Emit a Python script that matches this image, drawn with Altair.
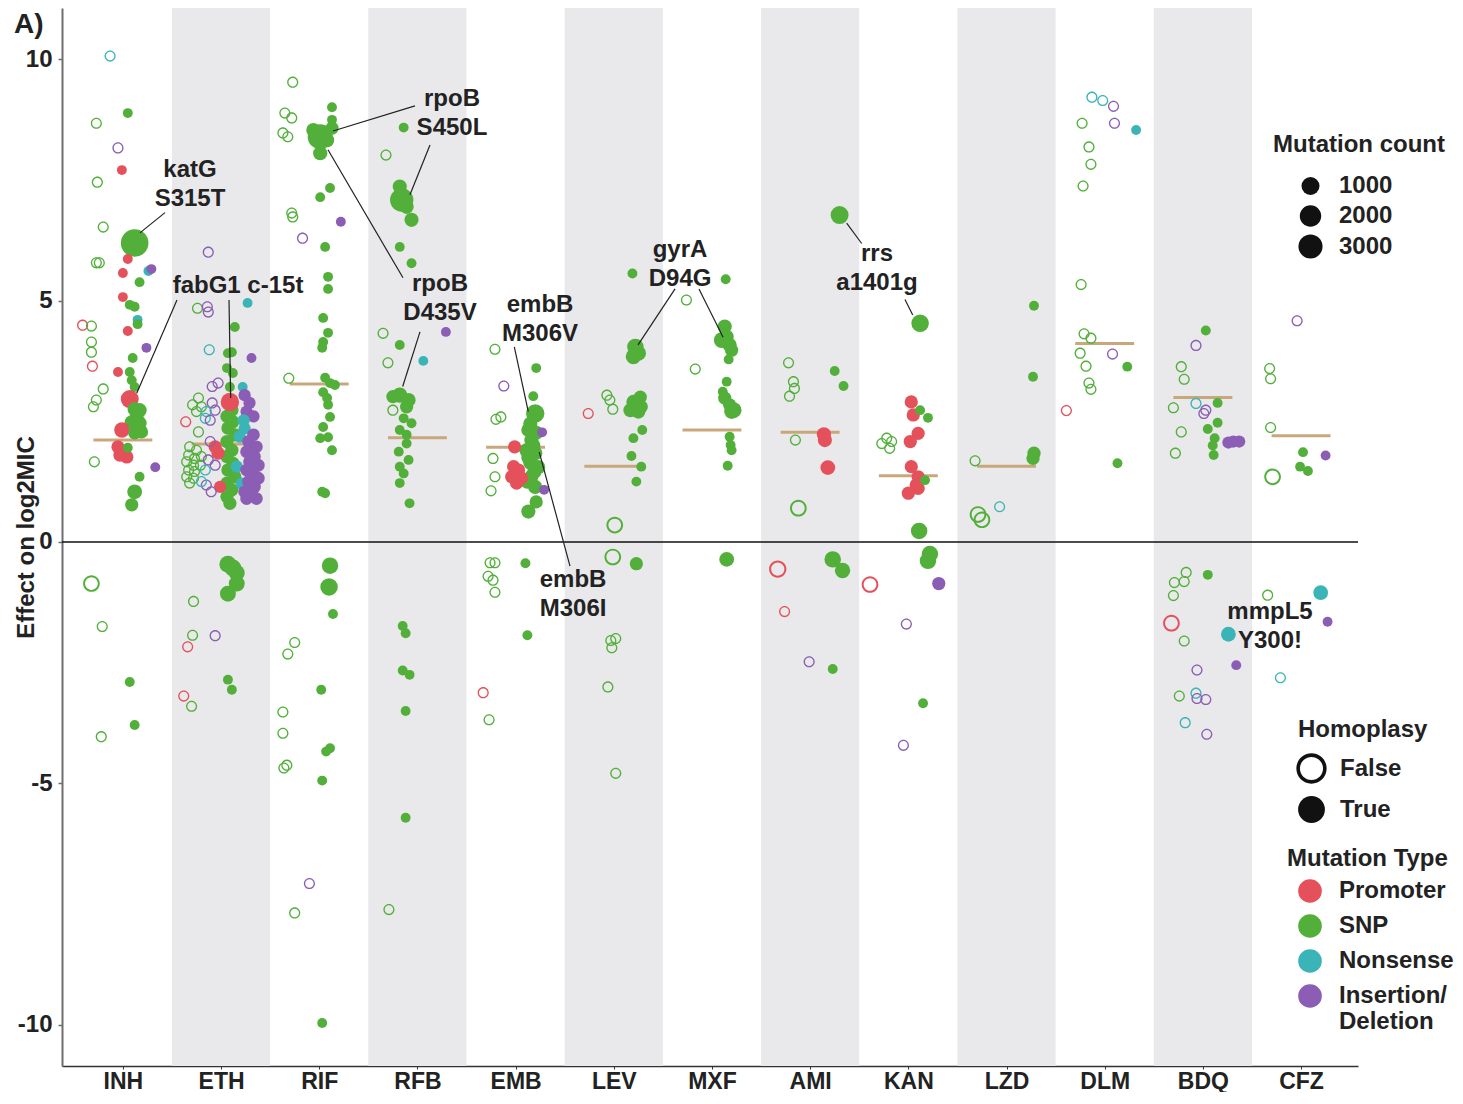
import altair as alt
import pandas as pd

# ---------------- data ----------------
DRUGS = ["INH", "ETH", "RIF", "RFB", "EMB", "LEV", "MXF", "AMI", "KAN", "LZD", "DLM", "BDQ", "CFZ"]
MEDIANS = [2.11, 2.03, 3.27, 2.16, 1.96, 1.57, 2.32, 2.27, 1.37, 1.57, 4.11, 2.99, 2.20]
SHADED = ["ETH", "RFB", "LEV", "AMI", "LZD", "BDQ"]
TYPE_CODES = {"P": "Promoter", "S": "SNP", "N": "Nonsense", "I": "Insertion/Deletion"}
TYPE_ORDER = ["Promoter", "SNP", "Nonsense", "Insertion/Deletion"]
TYPE_COLORS = ["#E4515B", "#52B03A", "#3BB4B7", "#8B5DB4"]
HOMO_ORDER = ["False", "True"]
COUNT_LEGEND = [1000, 2000, 3000]

# each point: (effect on log2MIC, jitter within the drug column, type, homoplasy 1/0, mutation count)
INH = [
    (10.06, -0.13, "N", 0, 10), (8.88, 0.05, "S", 1, 10), (8.67, -0.27, "S", 0, 10), (8.16, -0.05, "I", 0, 10),
    (7.70, -0.01, "P", 1, 10), (7.45, -0.26, "S", 0, 10), (6.52, -0.20, "S", 0, 10), (6.19, 0.12, "S", 1, 4600),
    (5.86, 0.05, "P", 1, 10), (5.78, -0.27, "S", 0, 10), (5.78, -0.24, "S", 0, 10), (5.57, 0.00, "P", 1, 10),
    (5.61, 0.26, "N", 1, 10), (5.65, 0.29, "I", 1, 10), (5.38, 0.17, "S", 1, 10), (5.07, 0.00, "P", 1, 10),
    (4.91, 0.07, "S", 1, 10), (4.87, 0.12, "S", 1, 10), (4.60, 0.15, "N", 1, 10), (4.51, 0.15, "S", 1, 10),
    (4.49, -0.41, "P", 0, 10), (4.47, -0.32, "S", 0, 10), (4.37, 0.05, "P", 1, 10), (4.14, -0.32, "S", 0, 10),
    (3.93, -0.32, "S", 0, 10), (4.02, 0.24, "I", 1, 10), (3.64, -0.31, "P", 0, 10), (3.81, 0.10, "S", 1, 10),
    (3.52, -0.05, "P", 1, 10), (3.52, 0.07, "S", 1, 10), (3.35, 0.09, "S", 1, 10), (3.21, 0.12, "S", 1, 10),
    (3.17, -0.20, "S", 0, 10), (2.94, -0.27, "S", 0, 10), (2.80, -0.30, "S", 0, 10), (2.96, 0.07, "P", 1, 1000),
    (2.75, 0.12, "S", 1, 300), (2.73, 0.17, "S", 1, 300), (2.59, 0.14, "S", 1, 300), (2.46, 0.17, "S", 1, 300),
    (2.48, 0.09, "S", 1, 300), (2.32, -0.01, "P", 1, 500), (2.28, 0.19, "S", 1, 200), (2.26, 0.12, "S", 1, 200),
    (1.97, -0.05, "P", 1, 200), (1.84, 0.00, "P", 1, 200), (1.76, 0.04, "P", 1, 200), (1.80, -0.03, "P", 1, 200),
    (1.66, -0.29, "S", 0, 10), (1.95, 0.05, "S", 1, 10), (1.55, 0.33, "I", 1, 10), (1.35, 0.17, "S", 1, 10),
    (1.04, 0.12, "S", 1, 400), (0.77, 0.09, "S", 1, 200),
    (-0.86, -0.32, "S", 0, 400), (-1.75, -0.21, "S", 0, 10), (-2.90, 0.07, "S", 1, 10), (-3.79, 0.12, "S", 1, 10),
    (-4.03, -0.22, "S", 0, 10),
]
ETH = [
    (6.00, -0.13, "I", 0, 10), (4.84, -0.24, "S", 0, 10), (4.87, -0.14, "I", 0, 10), (4.76, -0.13, "I", 0, 10),
    (4.95, 0.27, "N", 1, 10), (4.45, 0.14, "S", 1, 10), (3.98, -0.12, "N", 0, 10), (3.91, 0.07, "S", 1, 10),
    (3.93, 0.11, "S", 1, 10), (3.81, 0.31, "I", 1, 10), (3.60, 0.06, "S", 1, 10), (3.50, 0.12, "S", 1, 10),
    (3.22, -0.09, "I", 0, 10), (3.29, -0.03, "I", 0, 10), (3.21, 0.09, "S", 1, 10), (3.21, 0.22, "N", 1, 10),
    (3.04, 0.24, "I", 1, 100), (2.88, 0.29, "I", 1, 100), (2.70, 0.26, "I", 1, 100), (2.60, 0.33, "I", 1, 100),
    (2.98, -0.23, "S", 0, 10), (2.84, -0.29, "S", 0, 10), (2.80, -0.20, "S", 0, 10), (2.70, -0.25, "S", 0, 10),
    (2.88, -0.09, "I", 0, 10), (2.73, -0.06, "I", 0, 10), (2.70, -0.15, "N", 0, 10), (2.56, -0.16, "N", 0, 10),
    (2.52, -0.11, "I", 0, 10), (2.49, -0.36, "P", 0, 10), (2.28, -0.23, "S", 0, 10),
    (2.73, 0.11, "S", 1, 200), (2.60, 0.06, "S", 1, 200), (2.49, 0.12, "S", 1, 200), (2.36, 0.07, "S", 1, 200),
    (2.22, 0.14, "S", 1, 200), (2.08, 0.06, "S", 1, 200), (1.90, 0.11, "S", 1, 200), (1.77, 0.06, "S", 1, 200),
    (1.63, 0.12, "S", 1, 200), (1.49, 0.07, "S", 1, 200), (1.35, 0.14, "S", 1, 200), (1.22, 0.06, "S", 1, 200),
    (1.08, 0.11, "S", 1, 200), (0.94, 0.06, "S", 1, 200), (0.80, 0.09, "S", 1, 200),
    (2.52, 0.23, "N", 1, 100), (2.35, 0.24, "N", 1, 100), (2.18, 0.19, "N", 1, 100), (1.21, 0.21, "N", 1, 100),
    (1.56, 0.16, "N", 1, 100),
    (2.22, 0.33, "I", 1, 150), (2.08, 0.28, "I", 1, 150), (1.97, 0.36, "I", 1, 150), (1.87, 0.26, "I", 1, 150),
    (1.77, 0.34, "I", 1, 150), (1.66, 0.29, "I", 1, 150), (1.59, 0.38, "I", 1, 150), (1.49, 0.26, "I", 1, 150),
    (1.42, 0.33, "I", 1, 150), (1.32, 0.38, "I", 1, 150), (1.25, 0.28, "I", 1, 150), (1.14, 0.34, "I", 1, 150),
    (1.04, 0.24, "I", 1, 150), (1.01, 0.31, "I", 1, 150), (0.90, 0.36, "I", 1, 150), (0.90, 0.26, "I", 1, 150),
    (1.97, -0.06, "P", 1, 200), (1.84, -0.03, "P", 1, 200), (1.14, -0.01, "P", 1, 100),
    (2.90, 0.09, "P", 1, 1100),
    (1.97, -0.32, "S", 0, 10), (1.90, -0.25, "S", 0, 10), (1.80, -0.33, "S", 0, 10), (1.73, -0.27, "S", 0, 10),
    (1.77, -0.20, "S", 0, 10), (1.66, -0.35, "S", 0, 10), (1.59, -0.28, "S", 0, 10), (1.59, -0.21, "S", 0, 10),
    (1.49, -0.33, "S", 0, 10), (1.46, -0.27, "S", 0, 10), (1.35, -0.35, "S", 0, 10), (1.32, -0.28, "S", 0, 10),
    (1.22, -0.32, "S", 0, 10),
    (2.08, -0.11, "I", 0, 10), (1.70, -0.13, "I", 0, 10), (1.59, -0.06, "I", 0, 10), (1.18, -0.15, "I", 0, 10),
    (1.04, -0.10, "I", 0, 10), (1.25, -0.20, "N", 0, 10), (1.49, -0.16, "N", 0, 10),
    (-0.46, 0.07, "S", 1, 800), (-0.54, 0.12, "S", 1, 800), (-0.64, 0.16, "S", 1, 600), (-0.86, 0.16, "S", 1, 600),
    (-1.07, 0.07, "S", 1, 600), (-1.23, -0.28, "S", 0, 10), (-1.93, -0.29, "S", 0, 10), (-1.94, -0.06, "I", 0, 10),
    (-2.17, -0.34, "P", 0, 10), (-2.85, 0.07, "S", 1, 10), (-3.06, 0.11, "S", 1, 10), (-3.19, -0.38, "P", 0, 10),
    (-3.40, -0.30, "S", 0, 10),
]
RIF = [
    (9.52, -0.27, "S", 0, 10), (9.00, 0.13, "S", 1, 10), (8.74, 0.13, "S", 1, 10), (8.88, -0.35, "S", 0, 10),
    (8.78, -0.28, "S", 0, 10), (8.47, -0.37, "S", 0, 10), (8.39, -0.32, "S", 0, 10),
    (8.53, -0.06, "S", 1, 300), (8.32, 0.08, "S", 1, 300), (8.05, 0.01, "S", 1, 300), (8.57, 0.13, "S", 1, 200),
    (8.39, 0.01, "S", 1, 3400),
    (7.33, 0.11, "S", 1, 10), (7.14, 0.01, "S", 1, 10), (6.81, -0.28, "S", 0, 10), (6.73, -0.27, "S", 0, 10),
    (6.63, 0.22, "I", 1, 10), (6.29, -0.17, "I", 0, 10), (6.11, 0.06, "S", 1, 10), (5.49, 0.09, "S", 1, 10),
    (5.24, 0.09, "S", 1, 10), (4.64, 0.04, "S", 1, 10), (4.33, 0.09, "S", 1, 10), (4.14, 0.04, "S", 1, 10),
    (4.02, 0.03, "S", 1, 10), (3.39, -0.31, "S", 0, 10), (3.40, 0.06, "S", 1, 10), (3.29, 0.11, "S", 1, 10),
    (3.25, 0.16, "S", 1, 10), (3.10, 0.04, "S", 1, 10), (2.98, 0.08, "S", 1, 10), (2.84, 0.09, "S", 1, 10),
    (2.59, 0.11, "S", 1, 10), (2.38, 0.04, "S", 1, 10), (2.15, 0.01, "S", 1, 10), (2.17, 0.09, "S", 1, 10),
    (1.90, 0.13, "S", 1, 10), (1.04, 0.03, "S", 1, 10), (1.01, 0.06, "S", 1, 10),
    (-0.49, 0.11, "S", 1, 700), (-0.93, 0.10, "S", 1, 900), (-1.49, 0.14, "S", 1, 10), (-2.08, -0.25, "S", 0, 10),
    (-2.32, -0.32, "S", 0, 10), (-3.06, 0.02, "S", 1, 10), (-3.52, -0.37, "S", 0, 10), (-3.96, -0.37, "S", 0, 10),
    (-4.27, 0.11, "S", 1, 10), (-4.34, 0.07, "S", 1, 10), (-4.62, -0.33, "S", 0, 10), (-4.68, -0.36, "S", 0, 10),
    (-4.94, 0.03, "S", 1, 10), (-7.07, -0.10, "I", 0, 10), (-7.68, -0.25, "S", 0, 10), (-9.96, 0.03, "S", 1, 10),
]
RFB = [
    (8.58, -0.14, "S", 1, 10), (8.01, -0.32, "S", 0, 10), (7.36, -0.18, "S", 1, 300), (7.08, -0.16, "S", 1, 2700),
    (6.94, -0.11, "S", 1, 300), (6.67, -0.06, "S", 1, 300), (6.11, -0.18, "S", 1, 10), (5.77, -0.06, "S", 1, 10),
    (4.32, -0.35, "S", 0, 10), (4.35, 0.29, "I", 1, 10), (4.08, -0.18, "S", 1, 10), (3.71, -0.30, "S", 0, 10),
    (3.75, 0.06, "N", 1, 10), (3.04, -0.18, "S", 1, 500), (2.94, -0.09, "S", 1, 300), (3.01, -0.25, "S", 1, 200),
    (2.80, -0.11, "S", 1, 200), (2.73, -0.25, "S", 0, 10), (2.56, -0.14, "S", 1, 10), (2.46, -0.06, "S", 1, 10),
    (2.32, -0.18, "S", 1, 10), (2.22, -0.11, "S", 1, 10), (2.04, -0.11, "S", 1, 10), (1.87, -0.19, "S", 1, 10),
    (1.70, -0.09, "S", 1, 10), (1.56, -0.18, "S", 1, 10), (1.42, -0.14, "S", 1, 10), (1.22, -0.18, "S", 1, 10),
    (0.80, -0.08, "S", 1, 10),
    (-1.74, -0.15, "S", 1, 10), (-1.89, -0.12, "S", 1, 10), (-2.66, -0.15, "S", 1, 10), (-2.75, -0.08, "S", 1, 10),
    (-3.50, -0.12, "S", 1, 10), (-5.71, -0.12, "S", 1, 10), (-7.61, -0.29, "S", 0, 10),
]
EMB = [
    (3.99, -0.21, "S", 0, 10), (3.60, 0.21, "S", 1, 10), (3.23, -0.12, "I", 0, 10), (3.02, 0.18, "S", 1, 10),
    (2.54, -0.20, "S", 0, 10), (2.59, -0.15, "S", 0, 10), (2.66, 0.20, "S", 1, 1100),
    (2.45, 0.15, "S", 1, 300), (2.32, 0.13, "S", 1, 300), (2.26, 0.21, "S", 1, 300), (2.11, 0.16, "S", 1, 300),
    (2.00, 0.18, "S", 1, 300), (1.90, 0.11, "S", 1, 300), (1.84, 0.20, "S", 1, 300), (1.75, 0.13, "S", 1, 300),
    (1.64, 0.15, "S", 1, 300), (1.55, 0.23, "S", 1, 300), (1.45, 0.19, "S", 1, 300), (1.35, 0.16, "S", 1, 300),
    (1.25, 0.12, "S", 1, 300), (1.14, 0.20, "S", 1, 300), (2.27, 0.27, "I", 1, 10),
    (1.97, -0.01, "P", 1, 200), (1.56, -0.02, "P", 1, 200), (1.49, 0.03, "P", 1, 200), (1.35, -0.04, "P", 1, 200),
    (1.32, 0.06, "P", 1, 200), (1.22, 0.01, "P", 1, 200),
    (1.73, -0.23, "S", 0, 10), (1.35, -0.21, "S", 0, 10), (1.06, -0.25, "S", 0, 10), (1.08, 0.29, "I", 1, 10),
    (0.83, 0.21, "S", 1, 200), (0.63, 0.13, "S", 1, 300),
    (-0.43, -0.26, "S", 0, 10), (-0.43, -0.21, "S", 0, 10), (-0.71, -0.28, "S", 0, 10), (-0.79, -0.23, "S", 0, 10),
    (-1.04, -0.21, "S", 0, 10), (-0.44, 0.10, "S", 1, 10), (-1.93, 0.12, "S", 1, 10), (-3.12, -0.33, "P", 0, 10),
    (-3.68, -0.27, "S", 0, 10),
]
LEV = [
    (5.56, 0.19, "S", 1, 10), (4.04, 0.22, "S", 1, 700), (3.91, 0.25, "S", 1, 500), (3.84, 0.20, "S", 1, 500),
    (2.66, -0.26, "P", 0, 10), (3.04, -0.07, "S", 0, 10), (2.94, -0.04, "S", 0, 10), (2.75, -0.01, "S", 0, 10),
    (3.00, 0.27, "S", 1, 200), (2.90, 0.20, "S", 1, 300), (2.73, 0.17, "S", 1, 300), (2.70, 0.25, "S", 1, 300),
    (2.80, 0.28, "S", 1, 200), (2.32, 0.29, "S", 1, 10), (2.15, 0.20, "S", 1, 10), (1.78, 0.18, "S", 1, 10),
    (1.56, 0.28, "S", 1, 10), (1.25, 0.23, "S", 1, 10), (0.35, 0.01, "S", 0, 400),
    (-0.31, -0.01, "S", 0, 400), (-0.45, 0.23, "S", 1, 200), (-2.00, 0.02, "S", 0, 10), (-2.04, -0.03, "S", 0, 10),
    (-2.19, -0.02, "S", 0, 10), (-3.00, -0.06, "S", 0, 10), (-4.79, 0.02, "S", 0, 10),
]
MXF = [
    (5.01, -0.26, "S", 0, 10), (3.58, -0.17, "S", 0, 10), (5.44, 0.14, "S", 1, 10), (4.46, 0.13, "S", 1, 300),
    (4.25, 0.15, "S", 1, 300), (4.18, 0.10, "S", 1, 600), (4.08, 0.18, "S", 1, 300), (3.97, 0.20, "S", 1, 200),
    (3.78, 0.17, "S", 1, 10), (3.32, 0.15, "S", 1, 10), (3.11, 0.11, "S", 1, 10), (2.98, 0.13, "S", 1, 200),
    (2.84, 0.18, "S", 1, 200), (2.70, 0.20, "S", 1, 400), (2.73, 0.22, "S", 1, 600), (2.18, 0.18, "S", 1, 10),
    (2.01, 0.19, "S", 1, 10), (1.90, 0.20, "S", 1, 10), (1.58, 0.16, "S", 1, 10), (-0.36, 0.15, "S", 1, 400),
]
AMI = [
    (6.77, 0.30, "S", 1, 1000), (3.71, -0.22, "S", 0, 10), (3.32, -0.17, "S", 0, 10), (3.18, -0.16, "S", 0, 10),
    (3.02, -0.21, "S", 0, 10), (3.54, 0.25, "S", 1, 10), (3.23, 0.34, "S", 1, 10), (2.11, -0.15, "S", 0, 10),
    (2.23, 0.14, "P", 1, 300), (2.11, 0.15, "P", 1, 300), (1.54, 0.18, "P", 1, 400), (0.70, -0.12, "S", 0, 400),
    (-0.56, -0.33, "P", 0, 500), (-1.44, -0.26, "P", 0, 10), (-2.48, -0.01, "I", 0, 10), (-2.63, 0.23, "S", 1, 10),
    (-0.36, 0.23, "S", 1, 700), (-0.59, 0.33, "S", 1, 500),
]
KAN = [
    (4.53, 0.12, "S", 1, 900), (2.90, 0.03, "P", 1, 200), (2.63, 0.05, "P", 1, 200), (2.25, 0.10, "P", 1, 200),
    (2.08, 0.02, "P", 1, 200), (2.73, 0.12, "S", 1, 10), (2.57, 0.20, "S", 1, 10), (2.15, -0.22, "S", 0, 10),
    (2.04, -0.27, "S", 0, 10), (1.94, -0.19, "S", 0, 10), (2.08, -0.17, "S", 0, 10), (1.56, 0.03, "P", 1, 200),
    (1.35, 0.10, "P", 1, 200), (1.18, 0.08, "P", 1, 200), (1.11, 0.10, "P", 1, 200), (1.01, 0.00, "P", 1, 200),
    (1.28, 0.17, "S", 1, 10), (0.23, 0.11, "S", 1, 700),
    (-0.88, -0.39, "P", 0, 400), (-0.25, 0.22, "S", 1, 700), (-0.39, 0.20, "S", 1, 700), (-0.86, 0.31, "I", 1, 200),
    (-1.70, -0.02, "I", 0, 10), (-3.34, 0.15, "S", 1, 10), (-4.21, -0.05, "I", 0, 10),
]
LZD = [
    (4.89, 0.28, "S", 1, 10), (3.42, 0.27, "S", 1, 10), (1.84, 0.28, "S", 1, 200), (1.73, 0.27, "S", 1, 200),
    (1.68, -0.32, "S", 0, 10), (0.57, -0.29, "S", 0, 400), (0.46, -0.25, "S", 0, 400), (0.73, -0.07, "N", 0, 10),
]
DLM = [
    (9.21, -0.13, "N", 0, 10), (9.14, -0.02, "N", 0, 10), (9.02, 0.09, "I", 0, 10), (8.67, 0.10, "I", 0, 10),
    (8.67, -0.23, "S", 0, 10), (8.53, 0.32, "N", 1, 10), (8.18, -0.16, "S", 0, 10), (7.82, -0.14, "S", 0, 10),
    (7.37, -0.22, "S", 0, 10), (5.33, -0.24, "S", 0, 10), (4.31, -0.21, "S", 0, 10), (4.22, -0.14, "S", 0, 10),
    (3.91, -0.25, "S", 0, 10), (3.64, -0.19, "S", 0, 10), (3.89, 0.08, "I", 0, 10), (3.63, 0.23, "S", 1, 10),
    (3.29, -0.16, "S", 0, 10), (3.16, -0.14, "S", 0, 10), (2.72, -0.39, "P", 0, 10), (1.63, 0.13, "S", 1, 10),
]
BDQ = [
    (4.38, 0.03, "S", 1, 10), (4.07, -0.07, "I", 0, 10), (3.63, -0.22, "S", 0, 10), (3.37, -0.19, "S", 0, 10),
    (2.87, -0.07, "N", 0, 10), (2.73, 0.03, "I", 0, 10), (2.66, 0.01, "I", 0, 10), (2.78, -0.30, "S", 0, 10),
    (2.88, 0.15, "S", 1, 10), (2.47, 0.15, "S", 1, 10), (2.34, 0.05, "S", 1, 10), (2.28, -0.22, "S", 0, 10),
    (2.15, 0.12, "S", 1, 10), (2.00, 0.10, "S", 1, 10), (1.80, 0.11, "S", 1, 10), (2.06, 0.26, "I", 1, 100),
    (2.08, 0.31, "I", 1, 100), (2.08, 0.37, "I", 1, 100), (1.84, -0.28, "S", 0, 10),
    (-0.63, -0.17, "S", 0, 10), (-0.84, -0.29, "S", 0, 10), (-0.82, -0.19, "S", 0, 10), (-1.11, -0.30, "S", 0, 10),
    (-0.68, 0.05, "S", 1, 10), (-1.68, -0.32, "P", 0, 400), (-2.05, -0.19, "S", 0, 10), (-1.91, 0.26, "N", 1, 400),
    (-2.65, -0.06, "I", 0, 10), (-2.55, 0.34, "I", 1, 10), (-3.19, -0.24, "S", 0, 10), (-3.13, -0.07, "N", 0, 10),
    (-3.24, -0.06, "I", 0, 10), (-3.26, 0.03, "I", 0, 10), (-3.74, -0.18, "N", 0, 10), (-3.98, 0.04, "I", 0, 10),
]
CFZ = [
    (4.58, -0.04, "I", 0, 10), (3.59, -0.32, "S", 0, 10), (3.38, -0.31, "S", 0, 10), (2.37, -0.31, "S", 0, 10),
    (1.86, 0.02, "S", 1, 10), (1.79, 0.25, "I", 1, 10), (1.56, -0.01, "S", 1, 10), (1.47, 0.07, "S", 1, 10),
    (1.35, -0.29, "S", 0, 400),
    (-1.10, -0.34, "S", 0, 10), (-1.05, 0.20, "N", 1, 400), (-1.65, 0.27, "I", 1, 10), (-2.81, -0.21, "N", 0, 10),
]
POINTS = [INH, ETH, RIF, RFB, EMB, LEV, MXF, AMI, KAN, LZD, DLM, BDQ, CFZ]

# annotations (first-line anchor in data units: drug position, log2MIC)
ANN_TEXT = ["katG\nS315T", "fabG1 c-15t", "rpoB\nS450L", "rpoB\nD435V", "embB\nM306V",
            "embB\nM306I", "gyrA\nD94G", "rrs\na1401g", "mmpL5\nY300!"]
ANN_X = [0.684, 1.173, 3.352, 3.230, 4.249, 4.585, 5.675, 7.681, 11.684]
ANN_Y = [7.70, 5.30, 9.17, 5.34, 4.91, -0.79, 6.05, 5.96, -1.45]
LEAD_X1 = [0.429, 0.551, 1.081, 2.975, 3.128, 2.089, 3.026, 3.987, 4.241, 5.624, 5.868, 7.372, 7.966]
LEAD_Y1 = [6.82, 5.01, 5.01, 9.03, 8.22, 8.12, 4.35, 4.04, 1.86, 5.24, 5.24, 6.60, 5.02]
LEAD_X2 = [0.174, 0.141, 1.098, 2.140, 2.924, 2.853, 2.850, 4.129, 4.554, 5.247, 6.113, 7.525, 8.045]
LEAD_Y2 = [6.40, 3.08, 2.98, 8.51, 7.19, 5.47, 3.22, 2.70, -0.50, 4.08, 4.24, 6.18, 4.70]

# ---------------- styling ----------------
W, H = 1296, 1058
FONT = "Liberation Sans"
XDOM = [-0.62, 12.58]
YDOM = [-10.849, 11.056]
MEDIAN_HALF = 0.3
# marker diameter grows linearly with sqrt(count) (area-style size scale); areas at knots
SIZE_KNOTS = [0, 100, 300, 1000, 2000, 3000, 4700]
SIZE_AREAS = [92, 150, 201, 324, 460, 581, 774]
# hollow marker: a filled annulus (outer radius matches a circle of equal size)
RING = ("M1.128,0 A1.128,1.128 0 1,1 -1.128,0 A1.128,1.128 0 1,1 1.128,0 Z "
        "M0.86,0 A0.86,0.86 0 1,0 -0.86,0 A0.86,0.86 0 1,0 0.86,0 Z")

rows = []
for i, (drug, pts) in enumerate(zip(DRUGS, POINTS)):
    for (val, jit, t, h, c) in pts:
        rows.append({"drug": drug, "x": i + jit, "y": val, "type": TYPE_CODES[t],
                     "homoplasy": HOMO_ORDER[h], "count": c})
pts_df = pd.DataFrame(rows)

band_df = pd.DataFrame({"drug": SHADED,
                        "x": [DRUGS.index(d) - 0.5 for d in SHADED],
                        "x2": [DRUGS.index(d) + 0.5 for d in SHADED]})
med_df = pd.DataFrame({"drug": DRUGS, "m": MEDIANS,
                       "x": [i - MEDIAN_HALF for i in range(len(DRUGS))],
                       "x2": [i + MEDIAN_HALF for i in range(len(DRUGS))]})
ann_df = pd.DataFrame({"text": ANN_TEXT, "x": ANN_X, "y": ANN_Y})
lead_df = pd.DataFrame({"x": LEAD_X1, "y": LEAD_Y1, "x2": LEAD_X2, "y2": LEAD_Y2})

xscale = alt.Scale(domain=XDOM, nice=False, zero=False)
yscale = alt.Scale(domain=YDOM, nice=False, zero=False)

label_expr = "[" + ",".join("'%s'" % d for d in DRUGS) + "][round(datum.value)]"
xaxis = alt.Axis(values=list(range(len(DRUGS))), labelExpr=label_expr, grid=False, title=None,
                 domainColor="#333333", domainWidth=1.5, tickColor="#333333", tickSize=3,
                 labelFont=FONT, labelFontSize=23, labelFontWeight="bold", labelColor="#222222",
                 labelPadding=1)
yaxis = alt.Axis(values=[-10, -5, 0, 5, 10], grid=False, title="Effect on log2MIC",
                 labelExpr="datum.value < 0 ? '-' + (-datum.value) : '' + datum.value",
                 domainColor="#6e6e6e", domainWidth=2, tickColor="#6e6e6e", tickSize=4, tickWidth=1.5,
                 labelFont=FONT, labelFontSize=24, labelFontWeight="bold", labelColor="#222222",
                 labelPadding=6, titleFont=FONT, titleFontSize=24, titleFontWeight="bold",
                 titleColor="#222222", titleX=-36, titleBaseline="middle")

bands = alt.Chart(band_df).mark_rect(color="#E9E8EA").encode(
    x=alt.X("x:Q", scale=xscale, axis=xaxis), x2="x2:Q",
    y=alt.value(0), y2=alt.value(H))

zero = alt.Chart(pd.DataFrame({"z": [0]})).mark_rule(color="#111111", strokeWidth=1.5).encode(
    y=alt.Y("z:Q", scale=yscale, axis=yaxis), x=alt.value(0), x2=alt.value(W))

medians = alt.Chart(med_df).mark_rule(color="#C9A77C", strokeWidth=3).encode(
    x=alt.X("x:Q", scale=xscale), x2="x2:Q", y=alt.Y("m:Q", scale=yscale))

legend_common = dict(orient="none", direction="vertical", padding=0,
                     titleFont=FONT, titleFontSize=24, titleFontWeight="bold", titleColor="#222222",
                     labelFont=FONT, labelFontSize=24, labelFontWeight="bold", labelColor="#222222")

points = alt.Chart(pts_df).mark_point(filled=True, opacity=1, strokeWidth=0).encode(
    x=alt.X("x:Q", scale=xscale),
    y=alt.Y("y:Q", scale=yscale),
    color=alt.Color("type:N", scale=alt.Scale(domain=TYPE_ORDER, range=TYPE_COLORS),
                    legend=alt.Legend(title="Mutation Type", legendX=1225, legendY=839,
                                      symbolType="circle", symbolSize=560, symbolStrokeWidth=0,
                                      symbolOffset=11, labelOffset=17, titlePadding=8, rowPadding=11,
                                      labelExpr="datum.label == 'Insertion/Deletion' ? ['Insertion/', 'Deletion'] : datum.label",
                                      **legend_common)),
    shape=alt.Shape("homoplasy:N", scale=alt.Scale(domain=HOMO_ORDER, range=[RING, "circle"]),
                    legend=alt.Legend(title="Homoplasy", legendX=1236, legendY=710,
                                      symbolSize=720, symbolFillColor="#111111", symbolStrokeWidth=0,
                                      labelOffset=15, titlePadding=13, rowPadding=12, **legend_common)),
    size=alt.Size("count:Q", scale=alt.Scale(domain=SIZE_KNOTS, range=SIZE_AREAS, zero=False),
                  legend=alt.Legend(title="Mutation count", values=COUNT_LEGEND, format="d",
                                    legendX=1211, legendY=125,
                                    symbolType="circle", symbolFillColor="#111111", symbolStrokeColor="#111111",
                                    symbolStrokeWidth=0, symbolOffset=25, labelOffset=16, titlePadding=17,
                                    rowPadding=6, **legend_common)),
)

leaders = alt.Chart(lead_df).mark_rule(color="#222222", strokeWidth=1.2).encode(
    x=alt.X("x:Q", scale=xscale), y=alt.Y("y:Q", scale=yscale), x2="x2:Q", y2="y2:Q")

labels = alt.Chart(ann_df).mark_text(font=FONT, fontSize=24, fontWeight="bold", color="#222222",
                                     align="center", baseline="middle", lineBreak="\n", lineHeight=29).encode(
    x=alt.X("x:Q", scale=xscale), y=alt.Y("y:Q", scale=yscale), text="text:N")

panel = alt.Chart(pd.DataFrame({"t": ["A)"]})).mark_text(
    font=FONT, fontSize=28, fontWeight="bold", color="#222222", align="left", baseline="alphabetic").encode(
    x=alt.value(-48), y=alt.value(25), text="t:N")

chart = alt.layer(bands, zero, medians, points, leaders, labels, panel).properties(
    width=W, height=H,
    autosize=alt.AutoSizeParams(type="none"),
    padding={"left": 54, "top": 0, "right": 97, "bottom": 26},
).configure_view(stroke=None)

chart.save("out.html", embed_options={"renderer": "svg", "actions": False})
